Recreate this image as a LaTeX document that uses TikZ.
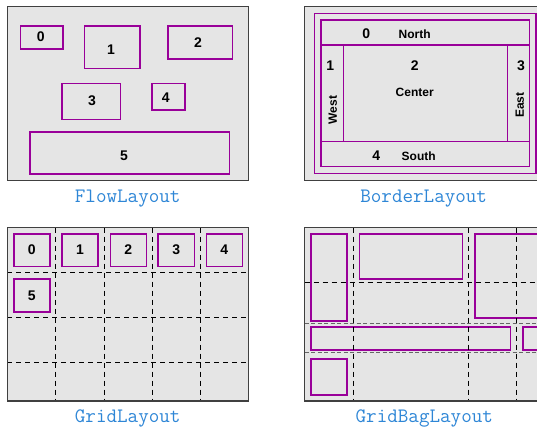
\documentclass[tikz,border=0pt]{standalone}
\usepackage{fontspec}
\setsansfont{Liberation Sans}
\begin{document}
\begin{tikzpicture}[x=1pt,y=-1pt,
  panel/.style={draw=black!75,line width=1.1pt,fill=black!10},
  pbox/.style={draw=pviolet,line width=1.6pt},
  pline/.style={draw=pviolet,line width=1.1pt},
  dgrid/.style={draw=black,line width=0.8pt,dash pattern=on 5pt off 4pt},
  dgray/.style={draw=black!60,line width=1.1pt,dash pattern=on 4pt off 2.5pt},
  num/.style={font=\sffamily\bfseries\fontsize{14}{15}\selectfont,inner sep=0pt},
  word/.style={font=\sffamily\bfseries\fontsize{12}{13}\selectfont,inner sep=0pt},
  captext/.style={font=\ttfamily\fontsize{20.5}{22}\selectfont,text=capblue,inner sep=0pt}
]
\definecolor{pviolet}{HTML}{990099}
\definecolor{capblue}{HTML}{2E86D6}
\useasboundingbox (0,0) rectangle (537,429);
\clip (0,0) rectangle (537,429);

% ---------- FlowLayout ----------
\draw[panel] (7.3,6.7) rectangle (248.7,180.3);
\draw[pbox] (20.3,25.7) rectangle (63,49);
\draw[pbox] (84.3,26) rectangle (139.7,68.3);
\draw[pbox] (167.7,26) rectangle (232.3,58.7);
\draw[pbox] (61.7,83.3) rectangle (120.3,119.3);
\draw[pbox] (151.7,83.3) rectangle (184.7,110);
\draw[pbox] (30,131.7) rectangle (229.3,174);
\node[num] (f0) at (40.7,36.7) {0};
\node[num] (f1) at (111,50) {1};
\node[num] (f2) at (198,42.7) {2};
\node[num] (f3) at (92,101) {3};
\node[num] (f4) at (165.7,97.3) {4};
\node[num] (f5) at (124,155.3) {5};
\node[captext] (cflow) at (127.7,198.3) {FlowLayout};

% ---------- BorderLayout ----------
\draw[panel] (304.3,6.7) rectangle (545,180.3);
\draw[pline] (314.3,13.3) rectangle (536,173.7);
\draw[pline] (321,20) rectangle (529.3,166.7);
\draw[pline] (321,45) -- (529.3,45);
\draw[pline] (321,141.7) -- (529.3,141.7);
\draw[pline] (343.7,45) -- (343.7,141.7);
\draw[pline] (507.3,45) -- (507.3,141.7);
\node[num] (b0) at (366.3,34) {0};
\node[word] (bn) at (414.7,34.7) {North};
\node[num] (b1) at (330.3,66) {1};
\node[num] (b2) at (414.7,65.7) {2};
\node[word] (bc) at (414.7,92.3) {Center};
\node[num] (b3) at (521,66) {3};
\node[word,rotate=90] (bw) at (332.7,110) {West};
\node[word,rotate=90] (be) at (519.7,105) {East};
\node[num] (b4) at (376.3,155.7) {4};
\node[word] (bs) at (418.7,156.7) {South};
\node[captext] (cborder) at (423.7,198.3) {BorderLayout};

% ---------- GridLayout ----------
\draw[panel] (7.3,227.7) rectangle (248.7,401);
\foreach \xx in {55.7,104,152.3,200.3}
  \draw[dgrid] (\xx,227.7) -- (\xx,401);
\foreach \yy in {272.7,317.3,362}
  \draw[dgrid] (7.3,\yy) -- (248.7,\yy);
\draw[panel,fill=none] (7.3,227.7) rectangle (248.7,401);
\draw[pbox] (13.7,234) rectangle (50,266.3);
\draw[pbox] (62,234) rectangle (98,266.3);
\draw[pbox] (110.3,234) rectangle (146.3,266.3);
\draw[pbox] (158,234) rectangle (194.3,266.3);
\draw[pbox] (206.3,234) rectangle (242.3,266.3);
\draw[pbox] (13.7,278.7) rectangle (50,311.7);
\node[num] (g0) at (31.8,250) {0};
\node[num] (g1) at (80,250) {1};
\node[num] (g2) at (128.3,250) {2};
\node[num] (g3) at (176.2,250) {3};
\node[num] (g4) at (224.3,250) {4};
\node[num] (g5) at (31.8,295.7) {5};
\node[captext] (cgrid) at (127.7,418.7) {GridLayout};

% ---------- GridBagLayout ----------
\draw[panel] (304.7,227.7) rectangle (600,401);
\draw[pbox] (311,234) rectangle (347,321);
\draw[pbox] (359.3,234) rectangle (462.3,279);
\draw[pbox] (474.7,234) rectangle (570,317.7);
\draw[pbox] (311,327) rectangle (510.3,349.7);
\draw[pbox] (522.7,327) rectangle (600,349.7);
\draw[pbox] (311,359) rectangle (347,394.7);
\foreach \xx in {353,468.7,516.3}
  \draw[dgrid] (\xx,227.7) -- (\xx,401);
\draw[dgrid] (304.7,282.3) -- (600,282.3);
\draw[dgray] (304.7,323.7) -- (600,323.7);
\draw[dgray] (304.7,352.3) -- (600,352.3);
\draw[panel,fill=none] (304.7,227.7) rectangle (600,401);
\node[captext] (cgridbag) at (424.3,418.7) {GridBagLayout};
\end{tikzpicture}
\end{document}
